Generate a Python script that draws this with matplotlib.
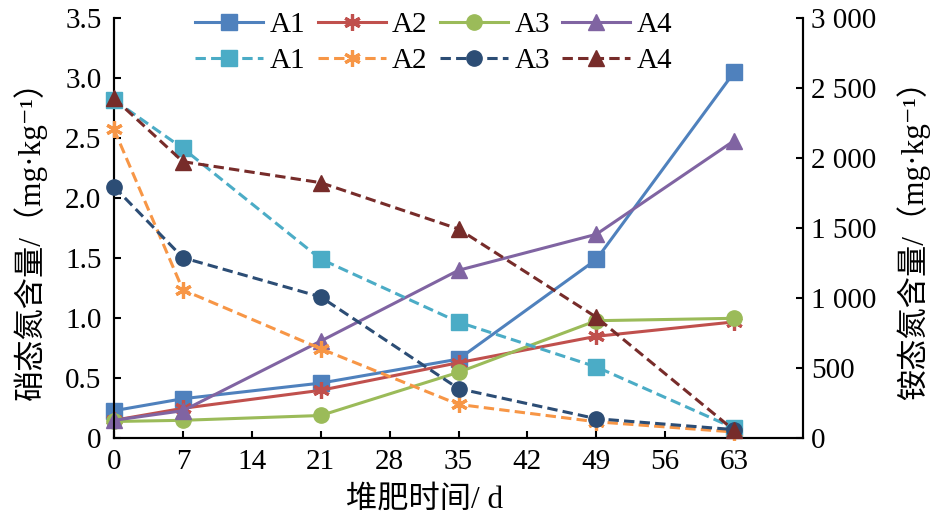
import matplotlib
matplotlib.use("Agg")
import matplotlib.pyplot as plt

# ---- data ----
days = [0, 7, 21, 35, 49, 63]
series_names = ["A1", "A2", "A3", "A4"]
# nitrate N (left axis, mg/kg)
nitrate_A1 = [0.23, 0.33, 0.46, 0.66, 1.49, 3.05]
nitrate_A2 = [0.15, 0.25, 0.40, 0.63, 0.85, 0.97]
nitrate_A3 = [0.14, 0.15, 0.19, 0.55, 0.98, 1.00]
nitrate_A4 = [0.15, 0.23, 0.81, 1.40, 1.70, 2.48]
# ammonium N (right axis, mg/kg)
ammon_A1 = [2416, 2071, 1280, 830, 510, 73]
ammon_A2 = [2207, 1060, 640, 242, 118, 45]
ammon_A3 = [1797, 1290, 1010, 355, 140, 62]
ammon_A4 = [2429, 1976, 1826, 1495, 865, 57]

x_ticks = [0, 7, 14, 21, 28, 35, 42, 49, 56, 63]
left_ticks = [0, 0.5, 1.0, 1.5, 2.0, 2.5, 3.0, 3.5]
left_ticklabels = ["0", "0.5", "1.0", "1.5", "2.0", "2.5", "3.0", "3.5"]
right_ticks = [0, 500, 1000, 1500, 2000, 2500, 3000]
right_ticklabels = ["0", "500", "1 000", "1 500", "2 000", "2 500", "3 000"]

left_label = "硝态氮含量/（mg·kg⁻¹）"
right_label = "铵态氮含量/（mg·kg⁻¹）"
x_label = "堆肥时间/ d"

solid_colors = ["#4F81BD", "#C0504D", "#9BBB59", "#8064A2"]
dashed_colors = ["#4BACC6", "#F79646", "#2C4D75", "#772C2A"]
markers = ["s", (6, 2, 0), "o", "^"]
msizes = [11, 12, 11, 12]

FONT = ["Liberation Serif", "Noto Sans CJK SC", "DejaVu Sans"]
plt.rcParams["font.family"] = FONT

W, H = 936, 527
fig = plt.figure(figsize=(W / 100, H / 100), dpi=100)
L, R, T, B = 114, 803, 18.3, 438.3
ax = fig.add_axes([L / W, 1 - B / H, (R - L) / W, (B - T) / H])
ax2 = ax.twinx()

nitrate = [nitrate_A1, nitrate_A2, nitrate_A3, nitrate_A4]
ammon = [ammon_A1, ammon_A2, ammon_A3, ammon_A4]

solid_handles, dashed_handles = [], []
for i, name in enumerate(series_names):
    m = markers[i]
    mew = 2.3 if m == (6, 2, 0) else 1
    h, = ax.plot(days, nitrate[i], color=solid_colors[i], lw=2.2, marker=m,
                 ms=msizes[i], mfc=solid_colors[i], mec=solid_colors[i], mew=mew,
                 clip_on=False, zorder=3)
    solid_handles.append(h)
for i, name in enumerate(series_names):
    m = markers[i]
    mew = 2.3 if m == (6, 2, 0) else 1
    h, = ax2.plot(days, ammon[i], color=dashed_colors[i], lw=2.2, marker=m,
                  ms=msizes[i], mfc=dashed_colors[i], mec=dashed_colors[i], mew=mew,
                  dashes=(3.4, 1.7), clip_on=False, zorder=3)
    dashed_handles.append(h)

ax.set_xlim(0, 70)
ax.set_ylim(0, 3.5)
ax2.set_ylim(0, 3000)
ax.set_xticks(x_ticks)
ax.set_xticklabels([str(v) for v in x_ticks])
ax.set_yticks(left_ticks)
ax.set_yticklabels(left_ticklabels)
ax2.set_yticks(right_ticks)
ax2.set_yticklabels(right_ticklabels)

for a in (ax, ax2):
    for s in a.spines.values():
        s.set_linewidth(1.5)
        s.set_color("black")
    a.spines["top"].set_visible(False)
ax.tick_params(axis="both", direction="in", length=5, width=1.5, labelsize=21,
               colors="black")
ax.tick_params(axis="y", pad=9)
ax.tick_params(axis="x", pad=8)
ax2.tick_params(axis="y", direction="in", length=5, width=1.5, labelsize=21, pad=6)

fig.text(30 / W, 1 - 232 / H, left_label, rotation=90, ha="center", va="center",
         fontsize=22.5, family=FONT)
fig.text(913 / W, 1 - 232 / H, right_label, rotation=90, ha="center", va="center",
         fontsize=22.5, family=FONT)
fig.text(425 / W, 1 - 500 / H, x_label, ha="center", va="center",
         fontsize=22.5, family=FONT)

handles, labels = [], []
for i, name in enumerate(series_names):
    handles += [solid_handles[i], dashed_handles[i]]
    labels += [name, name]
fig.legend(handles, labels, ncol=4, loc="upper left",
           bbox_to_anchor=(195 / W, 1 - 12 / H), frameon=False, fontsize=21,
           handlelength=2.33, handletextpad=0.23, columnspacing=0.42,
           labelspacing=0.33, borderpad=0, borderaxespad=0, numpoints=1)

fig.savefig("out.png", dpi=100)
